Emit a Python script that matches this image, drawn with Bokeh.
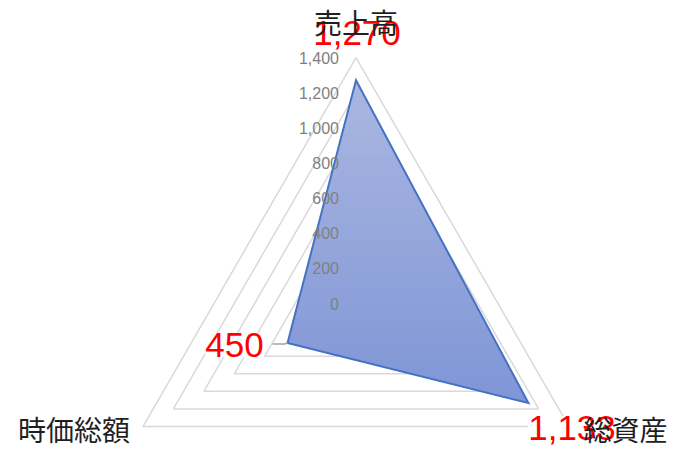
import math
from bokeh.plotting import figure
from bokeh.models import Range1d, ColumnDataSource
from bokeh.core.properties import value
from bokeh.embed import file_html
from bokeh.resources import INLINE

# ---- data ----
categories = ["売上高", "総資産", "時価総額"]
values = [1270, 1133, 450]
tick_values = [0, 200, 400, 600, 800, 1000, 1200, 1400]
tick_labels = ["0", "200", "400", "600", "800", "1,000", "1,200", "1,400"]
data_labels = ["{:,}".format(v) for v in values]

# ---- layout / style ----
W, H = 676, 451
CX, CY = 355.5, 303.0          # centre in figure pixels (from top-left)
R_MAX = 246.0                  # pixel radius of outermost ring
s = R_MAX / tick_values[-1]    # pixels per unit
angles = [90, -30, 210]

p = figure(width=W, height=H, output_backend="svg", toolbar_location=None,
           x_range=Range1d(-CX / s, (W - CX) / s),
           y_range=Range1d(-(H - CY) / s, CY / s),
           x_axis_location=None, y_axis_location=None, min_border=0)
p.grid.visible = False
p.outline_line_color = None
p.background_fill_color = "white"
p.border_fill_color = "white"

def pt(v, a):
    r = math.radians(a)
    return v * math.cos(r), v * math.sin(r)

# grid rings
gx, gy = [], []
for t in tick_values[1:]:
    xs, ys = [], []
    for a in angles + [angles[0]]:
        x, y = pt(t, a)
        xs.append(x); ys.append(y)
    gx.append(xs); gy.append(ys)
p.multi_line(gx, gy, line_color="#d9d9d9", line_width=1.5)

# data polygon
poly = [pt(v, a) for v, a in zip(values, angles)]

def clip(poly, y0, keep_above):
    out = []
    n = len(poly)
    for i in range(n):
        cur = poly[i]; prv = poly[i - 1]
        cin = (cur[1] >= y0) if keep_above else (cur[1] <= y0)
        pin = (prv[1] >= y0) if keep_above else (prv[1] <= y0)
        if cin:
            if not pin:
                t = (y0 - prv[1]) / (cur[1] - prv[1])
                out.append((prv[0] + t * (cur[0] - prv[0]), y0))
            out.append(cur)
        elif pin:
            t = (y0 - prv[1]) / (cur[1] - prv[1])
            out.append((prv[0] + t * (cur[0] - prv[0]), y0))
    return out

top_c = (171, 183, 225)
bot_c = (127, 149, 214)
ymax = max(q[1] for q in poly); ymin = min(q[1] for q in poly)
N = 30
bxs, bys, bcol = [], [], []
for i in range(N):
    hi = ymax - (ymax - ymin) * i / N + (1.0 / s if i > 0 else 0)
    lo = ymax - (ymax - ymin) * (i + 1) / N
    band = clip(clip(poly, hi, False), lo, True)
    if len(band) < 3:
        continue
    f = (i + 0.5) / N
    c = tuple(int(round(top_c[k] + (bot_c[k] - top_c[k]) * f)) for k in range(3))
    bxs.append([q[0] for q in band]); bys.append([q[1] for q in band])
    bcol.append("#%02x%02x%02x" % c)
p.patches(bxs, bys, fill_color=bcol, line_color=None)
p.patch([q[0] for q in poly], [q[1] for q in poly], fill_color=None,
        line_color="#4472c4", line_width=2, line_join="miter")

# leader line for the moved label (時価総額)
lx, ly = poly[2]
p.line([lx - 15 / s, lx - 3 / s, lx], [ly - 1 / s, ly - 1 / s, ly],
       line_color="#a6a6a6", line_width=1.5)

# tick labels on the vertical axis
p.text(x=[0] * len(tick_values), y=tick_values, text=tick_labels,
       x_offset=-17, text_align="right", text_baseline="middle",
       text_font=value("Liberation Sans"), text_font_size=value("16px"),
       text_color="#808080")

# data labels
dl_dx = [1, 43.6, -53]
dl_dy = [-47.3, 24.9, 2]
src = ColumnDataSource(dict(x=[q[0] for q in poly], y=[q[1] for q in poly],
                            t=data_labels, dx=dl_dx, dy=dl_dy))
p.text(x="x", y="y", text="t", x_offset="dx", y_offset="dy", source=src,
       text_align="center", text_baseline="middle",
       text_font=value("Liberation Sans"), text_font_size=value("35px"),
       text_color="#ff0000", background_fill_color="white")

# category labels
vert = [pt(tick_values[-1], a) for a in angles]
cat_dx = [0, 56.5, -69]
cat_dy = [-36, 2, 2]
csrc = ColumnDataSource(dict(x=[q[0] for q in vert], y=[q[1] for q in vert],
                             t=categories, dx=cat_dx, dy=cat_dy))
p.text(x="x", y="y", text="t", x_offset="dx", y_offset="dy", source=csrc,
       text_align="center", text_baseline="middle",
       text_font=value("Noto Sans CJK JP"), text_font_size=value("28px"),
       text_color="#1f1f1f")

open("out.html", "w").write(file_html(p, INLINE))
